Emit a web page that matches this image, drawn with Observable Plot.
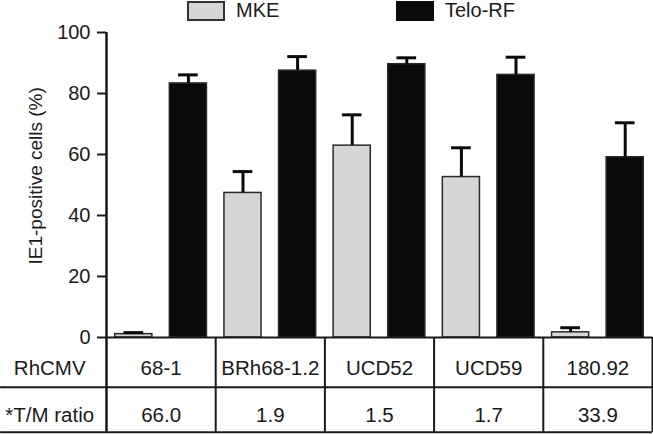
<!DOCTYPE html>
<html><head><meta charset="utf-8">
<script src="https://cdn.jsdelivr.net/npm/d3@7"></script>
<script src="https://cdn.jsdelivr.net/npm/@observablehq/plot@0.6"></script>
<style>
body{margin:0;background:#fff;}
#wrap{position:relative;width:653px;height:434px;font-family:"Liberation Sans",Arial,sans-serif;color:#1a1a1a;}
#wrap svg{position:absolute;top:0;left:0;}
.item{position:absolute;top:0;display:flex;align-items:center;height:21px;font-size:20px;z-index:2;}
.sw{width:38px;height:20px;box-sizing:border-box;margin-right:11px;}
</style></head><body><div id="wrap"></div>
<script>
// ---- data ----
const groups = ["68-1", "BRh68-1.2", "UCD52", "UCD59", "180.92"];
const series = ["MKE", "Telo-RF"];
const mke = [1.1, 47.4, 62.9, 52.6, 1.7];
const mkeErr = [0.5, 7.0, 10.1, 9.6, 1.5];
const telo = [83.3, 87.5, 89.6, 86.1, 59.1];
const teloErr = [2.8, 4.6, 2.1, 5.8, 11.3];
const tmRatio = ["66.0", "1.9", "1.5", "1.7", "33.9"];
const rowHeaders = ["RhCMV", "*T/M ratio"];
const yTicks = [0, 20, 40, 60, 80, 100];
const yLabel = "IE1-positive cells (%)";
const colors = ["#d5d6d5", "#0a0a0a"];

// ---- layout (in data units) ----
const barStart = {"MKE": 0.08, "Telo-RF": 0.58};
const barWidth = 0.34;
const capHalf = 0.09;
const headerLeft = -0.97;
const headerCenter = -0.52;
const rowSep = -16.3;
const tableBottom = -31.1;
const rowMid = [rowSep / 2, rowSep + (tableBottom - rowSep) / 2];

const rows = groups.flatMap((g, i) => [
  {group: g, i, series: "MKE", value: mke[i], err: mkeErr[i]},
  {group: g, i, series: "Telo-RF", value: telo[i], err: teloErr[i]}
]);
const barX1 = d => d.i + barStart[d.series];
const barXc = d => d.i + barStart[d.series] + barWidth / 2;
const errTop = d => d.value + d.err;
const ink = "#1a1a1a";

const chart = Plot.plot({
  width: 653,
  height: 434,
  marginLeft: 106,
  marginRight: 1,
  marginTop: 32,
  marginBottom: 97,
  style: {fontFamily: "Liberation Sans, Arial, sans-serif", color: ink, background: "transparent", overflow: "visible"},
  x: {domain: [0, groups.length], axis: null},
  y: {domain: [0, 100], axis: null},
  color: {domain: series, range: colors},
  marks: [
    Plot.rect(rows, {x1: barX1, x2: d => barX1(d) + barWidth, y1: 0, y2: "value", fill: "series", stroke: "#2a2a2a", strokeWidth: 1.5}),
    Plot.ruleX(rows, {x: barXc, y1: "value", y2: errTop, stroke: "#0a0a0a", strokeWidth: 3}),
    Plot.ruleY(rows, {y: errTop, x1: d => barXc(d) - capHalf, x2: d => barXc(d) + capHalf, stroke: "#0a0a0a", strokeWidth: 3}),
    Plot.axisY(yTicks, {tickSize: 9, tickPadding: 7, fontSize: 20, strokeWidth: 2, label: null, stroke: ink, fill: ink}),
    Plot.ruleX([0], {y1: tableBottom, y2: 100, stroke: ink, strokeWidth: 2.5}),
    Plot.ruleY([0], {x1: 0, x2: groups.length, stroke: ink, strokeWidth: 2}),
    Plot.ruleY([rowSep, tableBottom], {x1: headerLeft, x2: groups.length, stroke: ink, strokeWidth: 2}),
    Plot.ruleX(d3.range(1, groups.length + 1), {y1: tableBottom, y2: 0, stroke: ink, strokeWidth: 2}),
    Plot.text(groups, {x: (d, i) => i + 0.5, y: rowMid[0], dy: 6, fontSize: 20.5, fill: ink}),
    Plot.text(tmRatio, {x: (d, i) => i + 0.5, y: rowMid[1], dy: 6, fontSize: 20.5, fill: ink}),
    Plot.text(rowHeaders, {x: headerCenter, y: (d, i) => rowMid[i], dy: 6, fontSize: 20.5, fill: ink}),
    Plot.text([yLabel], {frameAnchor: "left", textAnchor: "middle", y: 53, rotate: -90, dx: -71, fontSize: 19, fill: ink})
  ]
});

const wrap = document.getElementById("wrap");
wrap.appendChild(chart);
const legendPos = [187, 396];
series.forEach((s, k) => {
  const item = document.createElement("div");
  item.className = "item";
  item.style.left = legendPos[k] + "px";
  const sw = document.createElement("div");
  sw.className = "sw";
  sw.style.background = colors[k];
  sw.style.border = "2px solid " + (k === 0 ? "#333" : colors[k]);
  const t = document.createElement("span");
  t.textContent = s;
  item.appendChild(sw);
  item.appendChild(t);
  wrap.appendChild(item);
});
</script></body></html>
